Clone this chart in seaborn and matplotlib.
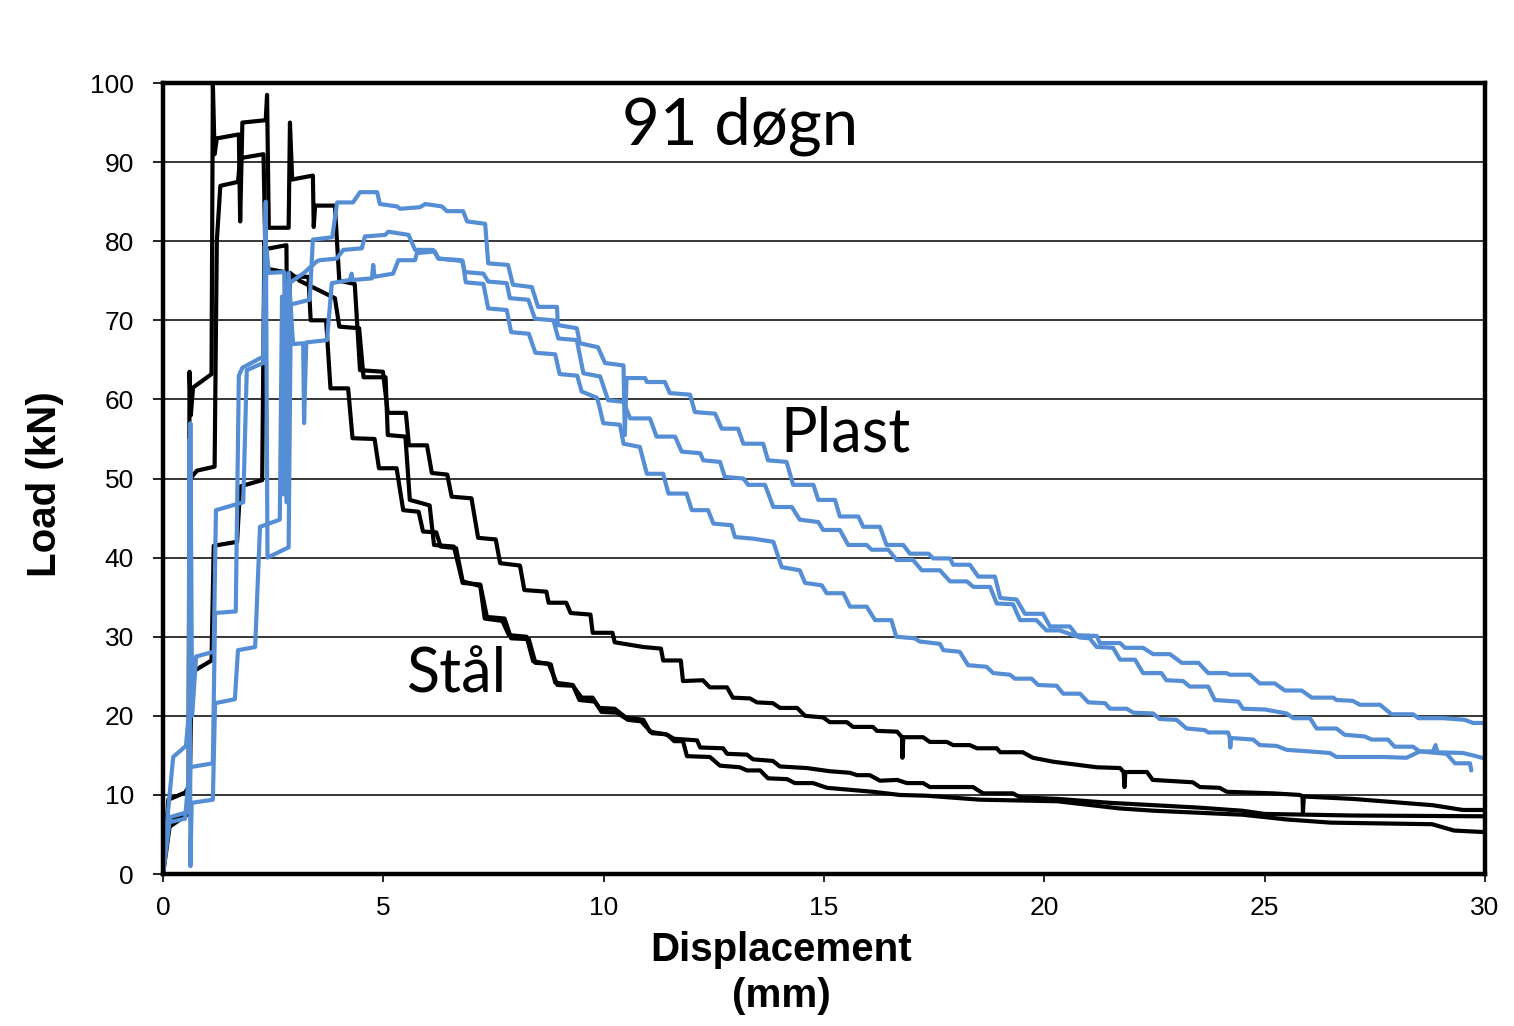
import matplotlib
matplotlib.use("Agg")
import matplotlib.pyplot as plt
import pandas as pd
import seaborn as sns

# load-displacement curves (x = mm, y = kN)
steel_1 = [
    (0, 0), (0.12, 9.4), (0.5, 10.3), (0.58, 11), (0.6, 63.5), (0.63, 58), (0.68, 61.5),
    (1.1, 63.2), (1.13, 100), (1.17, 91), (1.22, 93), (1.72, 93.5), (1.75, 82.5), (1.8, 95),
    (2.33, 95.3), (2.36, 98.5), (2.4, 81.7), (2.85, 81.7), (2.88, 95), (2.93, 87.8),
    (3.4, 88.3), (3.42, 81.8), (3.45, 84.5), (3.9, 84.5), (4.0, 75), (4.35, 74.6),
    (4.47, 63.7), (4.99, 63.5), (5.1, 58.3), (5.51, 58.3), (5.58, 54.2), (5.99, 54.2),
    (6.1, 50.7), (6.45, 50.5), (6.55, 47.7), (7.0, 47.5), (7.15, 42.5), (7.55, 42.3),
    (7.65, 39.3), (8.1, 39), (8.2, 35.9), (8.7, 35.7), (8.75, 34.3), (9.15, 34.3),
    (9.25, 33), (9.7, 32.8), (9.75, 30.5), (10.2, 30.5), (10.25, 29.3), (10.9, 28.7),
    (11.3, 28.5), (11.35, 27), (11.75, 27), (11.8, 24.4), (12.25, 24.5), (12.41, 23.6),
    (12.8, 23.6), (12.93, 22.3), (13.32, 22.2), (13.48, 21.7), (13.84, 21.6), (14.0, 21.0),
    (14.39, 21.0), (14.57, 20.0), (14.98, 19.8), (15.13, 19.2), (15.52, 19.2), (15.66, 18.6),
    (16.11, 18.6), (16.2, 18.1), (16.66, 18.0), (16.77, 17.3), (16.78, 14.7), (16.8, 17.3),
    (17.25, 17.3), (17.4, 16.7), (17.79, 16.7), (17.93, 16.3), (18.31, 16.3), (18.47, 15.9),
    (18.92, 15.9), (19.0, 15.4), (19.51, 15.4), (19.74, 14.7), (20.2, 14.2), (21.19, 13.5),
    (21.72, 13.4), (21.8, 12.9), (21.82, 11.0), (21.84, 12.9), (22.33, 12.9), (22.46, 11.9),
    (23.37, 11.6), (23.53, 11.0), (23.98, 10.9), (24.14, 10.4), (25.19, 10.2), (25.8, 10.0),
    (25.86, 9.8), (25.87, 7.8), (25.89, 9.8), (27.0, 9.5), (28.82, 8.7), (29.5, 8.1), (30, 8.1),
]
steel_2 = [
    (0, 0), (0.08, 5), (0.2, 6.8), (0.55, 7.8), (0.6, 10), (0.62, 50), (0.77, 51),
    (1.17, 51.5), (1.22, 80), (1.3, 87), (1.7, 87.5), (1.75, 90.5), (2.28, 91), (2.32, 79),
    (2.8, 79.5), (2.84, 48), (2.88, 76), (3.1, 75), (3.9, 72.8), (4.0, 69.2), (4.45, 69),
    (4.55, 62.8), (5.05, 62.8), (5.1, 55.5), (5.5, 55.3), (5.6, 47.3), (6.05, 46.6),
    (6.15, 41.6), (6.6, 41.4), (6.8, 36.8), (7.2, 36.6), (7.35, 32.5), (7.75, 32.3),
    (7.9, 29.8), (8.3, 29.7), (8.45, 26.7), (8.75, 26.6), (8.95, 23.9), (9.3, 23.8),
    (9.5, 22.3), (9.75, 22.3), (9.95, 20.5), (10.3, 20.4), (10.55, 19.5), (10.85, 19.3),
    (11.1, 17.8), (11.4, 17.7), (11.6, 17.1), (12.12, 16.9), (12.19, 16), (12.71, 15.9),
    (12.8, 15.2), (13.25, 15.1), (13.39, 14.5), (13.84, 14.3), (14.0, 13.6), (14.61, 13.4),
    (15.13, 13.0), (15.59, 12.8), (15.75, 12.5), (16.04, 12.5), (16.27, 11.8), (16.66, 11.9),
    (16.88, 11.5), (17.25, 11.5), (17.4, 11.0), (18.38, 11.0), (18.61, 10.2), (19.29, 10.2),
    (19.45, 9.7), (20.3, 9.5), (21.5, 9.0), (22.5, 8.7), (23.5, 8.4), (24.5, 8.0),
    (25.0, 7.6), (27.0, 7.4), (30, 7.3),
]
steel_3 = [
    (0, 0), (0.15, 6), (0.55, 7.5), (0.6, 8.5), (0.65, 25.5), (1.1, 27), (1.15, 41.5),
    (1.68, 42), (1.75, 49), (2.25, 49.8), (2.3, 80), (2.38, 76.5), (2.85, 76), (2.95, 75.5),
    (3.3, 75.5), (3.35, 70), (3.7, 70), (3.8, 61.4), (4.2, 61.4), (4.3, 55.1), (4.8, 55),
    (4.9, 51.3), (5.3, 51.3), (5.45, 46), (5.8, 45.8), (5.9, 43.3), (6.2, 43.2), (6.3, 41.4),
    (6.65, 41.2), (6.8, 37), (7.2, 36.4), (7.3, 32.3), (7.7, 32.0), (7.85, 30.2), (8.25, 30.0),
    (8.4, 26.9), (8.8, 26.5), (8.9, 24.2), (9.3, 23.9), (9.45, 22.0), (9.8, 21.8), (9.9, 21.0),
    (10.25, 20.9), (10.5, 19.8), (10.9, 19.5), (11.05, 18.0), (11.45, 17.6), (11.6, 16.8),
    (11.8, 16.8), (11.89, 14.9), (12.41, 14.8), (12.64, 13.7), (13.09, 13.5), (13.25, 13.1),
    (13.55, 13.1), (13.73, 12.1), (14.16, 12.0), (14.34, 11.5), (14.75, 11.5), (15.07, 10.9),
    (16.11, 10.4), (16.72, 10.0), (17.34, 9.9), (18.54, 9.4), (19.45, 9.3), (20.3, 9.2),
    (21.7, 8.3), (22.5, 8.0), (24.5, 7.5), (25.5, 6.9), (26.5, 6.5), (28.8, 6.3), (29.3, 5.5),
    (30, 5.3),
]
plast_1 = [
    (0, 0), (0.08, 6), (0.23, 14.8), (0.52, 16.2), (0.58, 20), (0.62, 57), (0.66, 20),
    (0.75, 27.5), (1.15, 28.1), (1.2, 46), (1.82, 47), (1.9, 63.7), (2.27, 64.6), (2.33, 85),
    (2.37, 40), (2.85, 41.3), (2.9, 72), (3.33, 72.6), (3.4, 80.2), (3.84, 80.5), (3.95, 84.9),
    (4.31, 84.9), (4.47, 86.2), (4.86, 86.2), (4.92, 84.7), (5.31, 84.4), (5.38, 84.1),
    (5.83, 84.3), (5.95, 84.7), (6.33, 84.4), (6.44, 83.8), (6.81, 83.8), (6.9, 82.5),
    (7.31, 82.2), (7.38, 77.2), (7.83, 77.0), (7.94, 74.5), (8.37, 74.2), (8.51, 71.7),
    (8.94, 71.7), (8.96, 69.4), (9.39, 69.0), (9.46, 67.1), (9.87, 66.6), (10.03, 64.6),
    (10.45, 64.3), (10.48, 55.5), (10.52, 62.7), (10.94, 62.7), (10.98, 62.2), (11.39, 62.2),
    (11.5, 60.8), (11.96, 60.6), (12.07, 58.4), (12.53, 58.2), (12.68, 56.3), (13.05, 56.3),
    (13.17, 54.4), (13.62, 54.4), (13.73, 52.3), (14.15, 52.1), (14.3, 49.2), (14.76, 49.2),
    (14.87, 47.3), (15.25, 47.3), (15.36, 45.2), (15.78, 45.2), (15.89, 43.9), (16.27, 43.9),
    (16.42, 41.6), (16.8, 41.6), (16.95, 40.5), (17.37, 40.5), (17.48, 39.9), (17.86, 39.9),
    (17.93, 39.1), (18.31, 39.1), (18.5, 37.6), (18.88, 37.6), (19.0, 34.9), (19.37, 34.7),
    (19.56, 32.9), (19.97, 32.9), (20.13, 31.3), (20.58, 31.3), (20.73, 30.2), (21.19, 30.1),
    (21.26, 29.2), (21.72, 29.2), (21.83, 28.6), (22.24, 28.6), (22.47, 27.8), (22.85, 27.8),
    (23.12, 26.7), (23.5, 26.7), (23.72, 25.4), (24.13, 25.4), (24.21, 25.2), (24.67, 25.2),
    (24.89, 24.1), (25.23, 24.1), (25.46, 23.2), (25.84, 23.2), (26.07, 22.3), (26.56, 22.3),
    (26.63, 22.0), (27.0, 21.9), (27.16, 21.4), (27.62, 21.4), (27.88, 20.2), (28.37, 20.2),
    (28.49, 19.7), (29.06, 19.7), (29.54, 19.5), (29.73, 19.1), (30, 19.1),
]
plast_2 = [
    (0, 0), (0.16, 7.2), (0.54, 7.8), (0.58, 8), (0.6, 55), (0.62, 1), (0.65, 9), (1.13, 9.4),
    (1.18, 21.6), (1.63, 22.1), (1.7, 28.3), (2.09, 28.7), (2.2, 43.9), (2.65, 44.8),
    (2.7, 73), (2.74, 48), (2.78, 73.5), (2.82, 52), (2.87, 74.7), (3.2, 76), (3.5, 77.5),
    (3.56, 77.6), (3.94, 77.8), (4.09, 78.9), (4.51, 79.1), (4.58, 80.6), (5.04, 80.8),
    (5.11, 81.2), (5.57, 80.8), (5.72, 78.9), (6.13, 78.9), (6.25, 77.8), (6.78, 77.6),
    (6.85, 76.1), (7.27, 75.9), (7.38, 74.9), (7.8, 74.7), (7.87, 72.8), (8.29, 72.6),
    (8.44, 70.2), (8.86, 70.0), (8.97, 67.7), (9.39, 67.5), (9.54, 63.3), (9.92, 62.9),
    (10.1, 59.9), (10.45, 59.7), (10.6, 57.6), (11.05, 57.6), (11.2, 55.3), (11.62, 55.3),
    (11.77, 53.4), (12.19, 53.2), (12.26, 52.3), (12.64, 52.1), (12.75, 50.2), (13.17, 50.0),
    (13.28, 49.2), (13.66, 49.2), (13.85, 46.4), (14.27, 46.4), (14.45, 44.8), (14.87, 44.5),
    (14.98, 43.5), (15.36, 43.5), (15.55, 41.6), (15.97, 41.6), (16.08, 41.0), (16.46, 41.0),
    (16.65, 39.7), (17.02, 39.7), (17.22, 38.4), (17.63, 38.4), (17.86, 37.0), (18.24, 37.0),
    (18.39, 36.3), (18.77, 36.3), (18.92, 34.2), (19.29, 34.1), (19.45, 32.1), (19.82, 32.1),
    (20.05, 30.8), (20.35, 30.8), (20.81, 29.9), (21.03, 29.8), (21.19, 28.7), (21.56, 28.6),
    (21.72, 27.1), (22.06, 27.1), (22.24, 25.4), (22.66, 25.4), (22.77, 24.5), (23.15, 24.4),
    (23.3, 23.7), (23.72, 23.7), (23.87, 22.0), (24.4, 21.8), (24.51, 20.9), (25.01, 20.8),
    (25.5, 20.3), (25.65, 19.7), (26.03, 19.7), (26.18, 18.4), (26.63, 18.4), (26.82, 17.6),
    (27.27, 17.4), (27.43, 17.0), (27.8, 17.0), (27.95, 16.1), (28.37, 16.1), (28.52, 15.5),
    (29.13, 15.2), (29.32, 14.0), (29.66, 14.0), (29.69, 13.1),
]
plast_3 = [
    (0, 0), (0.1, 6.5), (0.5, 7), (0.6, 13.5), (1.13, 14), (1.18, 33), (1.65, 33.2),
    (1.72, 63), (1.8, 64), (2.3, 65.5), (2.35, 79), (2.4, 76), (2.75, 76.1), (2.8, 47),
    (2.85, 76), (2.95, 67), (3.18, 67.1), (3.2, 57), (3.25, 67.2), (3.72, 67.5), (3.83, 74.7),
    (4.24, 75.1), (4.28, 75.9), (4.3, 75.1), (4.74, 75.3), (4.77, 77), (4.8, 75.5),
    (5.22, 75.9), (5.34, 77.6), (5.72, 77.6), (5.76, 78.5), (6.17, 78.7), (6.25, 77.8),
    (6.8, 77.5), (6.87, 74.8), (7.27, 74.6), (7.38, 71.5), (7.8, 71.3), (7.9, 68.5),
    (8.3, 68.3), (8.45, 65.9), (8.9, 65.7), (9.0, 63.2), (9.4, 63.0), (9.5, 61.0),
    (9.85, 60.2), (9.92, 58.7), (9.99, 57.0), (10.37, 56.8), (10.45, 54.4), (10.82, 54.0),
    (10.98, 50.6), (11.35, 50.6), (11.47, 48.1), (11.88, 48.1), (12.0, 46.0), (12.37, 46.0),
    (12.49, 44.3), (12.9, 44.1), (12.98, 42.6), (13.39, 42.4), (13.85, 42.0), (14.04, 38.8),
    (14.45, 38.4), (14.57, 36.8), (14.95, 36.5), (15.06, 35.5), (15.44, 35.5), (15.59, 33.8),
    (15.97, 33.8), (16.16, 32.1), (16.53, 32.1), (16.64, 30.0), (17.06, 29.8), (17.17, 29.4),
    (17.63, 29.1), (17.71, 28.3), (18.08, 28.1), (18.27, 26.4), (18.69, 26.2), (18.84, 25.4),
    (19.22, 25.2), (19.33, 24.7), (19.71, 24.7), (19.86, 23.9), (20.28, 23.8), (20.43, 22.8),
    (20.81, 22.8), (21.0, 21.7), (21.38, 21.6), (21.49, 20.9), (21.87, 20.9), (22.02, 20.4),
    (22.47, 20.3), (22.62, 19.6), (23.0, 19.5), (23.23, 18.4), (23.64, 18.2), (23.72, 17.9),
    (24.17, 17.9), (24.21, 17.2), (24.22, 16.0), (24.24, 17.2), (24.74, 17.0), (24.89, 16.3),
    (25.27, 16.2), (25.5, 15.7), (26.03, 15.5), (26.48, 15.3), (26.63, 14.8), (27.69, 14.8),
    (28.22, 14.7), (28.52, 15.5), (28.82, 15.5), (28.88, 16.3), (28.92, 15.4), (29.5, 15.3),
    (29.73, 15.0), (30, 14.6),
]

x_ticks = [0, 5, 10, 15, 20, 25, 30]
y_ticks = [0, 10, 20, 30, 40, 50, 60, 70, 80, 90, 100]


def to_frame(curves):
    rows = []
    for name, pts in curves.items():
        for i, (x, y) in enumerate(pts):
            rows.append({"curve": name, "step": i, "x": x, "y": y})
    return pd.DataFrame(rows)


steel = to_frame({"s1": steel_1, "s2": steel_2, "s3": steel_3})
plast = to_frame({"p1": plast_1, "p2": plast_2, "p3": plast_3})

sns.set_style("white")
plt.rcParams["font.family"] = ["Liberation Sans", "DejaVu Sans"]
plt.rcParams.update({"text.color": "black", "axes.labelcolor": "black",
                     "xtick.color": "black", "ytick.color": "black"})

fig = plt.figure(figsize=(15.14, 10.26), dpi=100)
ax = fig.add_axes([0.1077, 0.1481, 0.8731, 0.7710])

for y in y_ticks[1:-1]:
    ax.axhline(y, color="black", linewidth=1.1, zorder=0)

line_kw = dict(x="x", y="y", units="curve", estimator=None, sort=False,
               linewidth=3.0, legend=False, ax=ax)
sns.lineplot(data=steel, color="black", **line_kw)
sns.lineplot(data=plast, color="#558ED5", **line_kw)

ax.set_xlim(0, 30)
ax.set_ylim(0, 100)
ax.set_xticks(x_ticks)
ax.set_yticks(y_ticks)
ax.tick_params(axis="x", direction="out", length=6, width=1.2, labelsize=19, pad=10,
               bottom=True)
ax.tick_params(axis="y", direction="out", length=7, width=1.2, labelsize=19, pad=14,
               left=True)
for side in ["left", "right", "top", "bottom"]:
    ax.spines[side].set_visible(True)
    ax.spines[side].set_linewidth(3.2)
    ax.spines[side].set_color("black")

ax.set_xlabel("Displacement\n(mm)", fontsize=29, fontweight="bold", linespacing=1.25)
ax.xaxis.set_label_coords(0.4675, -0.072)
ax.set_ylabel("Load (kN)", fontsize=29, fontweight="bold")
ax.yaxis.set_label_coords(-0.075, 0.493)

txt = dict(family=["Lato", "DejaVu Sans"], color="black")
ax.text(13.1, 92.2, "91 døgn", fontsize=47, ha="center", va="baseline", **txt)
ax.text(14.0, 53.4, "Plast", fontsize=44, ha="left", va="baseline", **txt)
ax.text(5.54, 22.9, "Stål", fontsize=44, ha="left", va="baseline", **txt)

fig.savefig("out.png", dpi=100)
